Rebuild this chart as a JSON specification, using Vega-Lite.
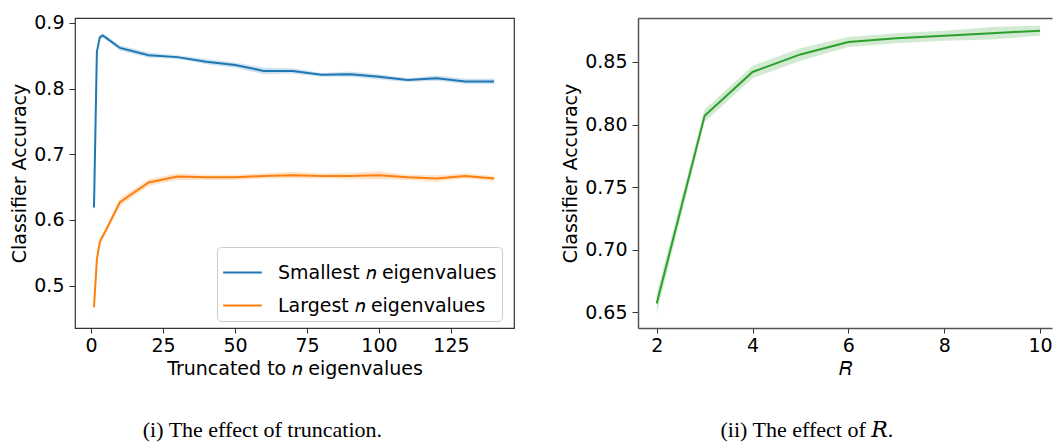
{
  "$schema": "https://vega.github.io/schema/vega-lite/v6.json",
  "background": "white",
  "padding": {"left": 10, "top": 13, "right": 0, "bottom": 0},
  "spacing": 46,
  "config": {
    "font": "DejaVu Sans",
    "axis": {
      "labelFont": "DejaVu Sans", "labelFontSize": 19, "labelColor": "#000",
      "titleFont": "DejaVu Sans", "titleFontSize": 19, "titleFontWeight": "normal", "titleColor": "#000",
      "tickSize": 6, "tickColor": "#333", "labelPadding": 5, "titlePadding": 4, "grid": false
    },
    "axisX": {"tickSize": 5, "labelPadding": 3},
    "title": {"font": "Liberation Serif, DejaVu Serif", "fontSize": 22, "fontWeight": "normal", "color": "#000"}
  },
  "datasets": {
    "trunc": [
      {"n": 1, "series": "Smallest 𝑛 eigenvalues", "mean": 0.619, "lo": 0.606, "hi": 0.631},
      {"n": 2, "series": "Smallest 𝑛 eigenvalues", "mean": 0.856, "lo": 0.852, "hi": 0.860},
      {"n": 3, "series": "Smallest 𝑛 eigenvalues", "mean": 0.878, "lo": 0.875, "hi": 0.881},
      {"n": 4, "series": "Smallest 𝑛 eigenvalues", "mean": 0.881, "lo": 0.878, "hi": 0.884},
      {"n": 5, "series": "Smallest 𝑛 eigenvalues", "mean": 0.878, "lo": 0.875, "hi": 0.881},
      {"n": 10, "series": "Smallest 𝑛 eigenvalues", "mean": 0.862, "lo": 0.858, "hi": 0.866},
      {"n": 20, "series": "Smallest 𝑛 eigenvalues", "mean": 0.851, "lo": 0.847, "hi": 0.855},
      {"n": 30, "series": "Smallest 𝑛 eigenvalues", "mean": 0.848, "lo": 0.845, "hi": 0.851},
      {"n": 40, "series": "Smallest 𝑛 eigenvalues", "mean": 0.841, "lo": 0.837, "hi": 0.845},
      {"n": 50, "series": "Smallest 𝑛 eigenvalues", "mean": 0.836, "lo": 0.832, "hi": 0.840},
      {"n": 60, "series": "Smallest 𝑛 eigenvalues", "mean": 0.827, "lo": 0.822, "hi": 0.832},
      {"n": 70, "series": "Smallest 𝑛 eigenvalues", "mean": 0.827, "lo": 0.823, "hi": 0.831},
      {"n": 80, "series": "Smallest 𝑛 eigenvalues", "mean": 0.821, "lo": 0.818, "hi": 0.824},
      {"n": 90, "series": "Smallest 𝑛 eigenvalues", "mean": 0.822, "lo": 0.818, "hi": 0.826},
      {"n": 100, "series": "Smallest 𝑛 eigenvalues", "mean": 0.818, "lo": 0.814, "hi": 0.822},
      {"n": 110, "series": "Smallest 𝑛 eigenvalues", "mean": 0.813, "lo": 0.810, "hi": 0.816},
      {"n": 120, "series": "Smallest 𝑛 eigenvalues", "mean": 0.816, "lo": 0.812, "hi": 0.820},
      {"n": 130, "series": "Smallest 𝑛 eigenvalues", "mean": 0.811, "lo": 0.807, "hi": 0.815},
      {"n": 140, "series": "Smallest 𝑛 eigenvalues", "mean": 0.811, "lo": 0.807, "hi": 0.815},
      {"n": 1, "series": "Largest 𝑛 eigenvalues", "mean": 0.467, "lo": 0.457, "hi": 0.477},
      {"n": 2, "series": "Largest 𝑛 eigenvalues", "mean": 0.540, "lo": 0.534, "hi": 0.546},
      {"n": 3, "series": "Largest 𝑛 eigenvalues", "mean": 0.566, "lo": 0.561, "hi": 0.571},
      {"n": 4, "series": "Largest 𝑛 eigenvalues", "mean": 0.575, "lo": 0.570, "hi": 0.580},
      {"n": 5, "series": "Largest 𝑛 eigenvalues", "mean": 0.583, "lo": 0.578, "hi": 0.588},
      {"n": 10, "series": "Largest 𝑛 eigenvalues", "mean": 0.627, "lo": 0.621, "hi": 0.633},
      {"n": 20, "series": "Largest 𝑛 eigenvalues", "mean": 0.657, "lo": 0.652, "hi": 0.662},
      {"n": 30, "series": "Largest 𝑛 eigenvalues", "mean": 0.666, "lo": 0.661, "hi": 0.671},
      {"n": 40, "series": "Largest 𝑛 eigenvalues", "mean": 0.665, "lo": 0.661, "hi": 0.669},
      {"n": 50, "series": "Largest 𝑛 eigenvalues", "mean": 0.665, "lo": 0.661, "hi": 0.669},
      {"n": 60, "series": "Largest 𝑛 eigenvalues", "mean": 0.667, "lo": 0.663, "hi": 0.671},
      {"n": 70, "series": "Largest 𝑛 eigenvalues", "mean": 0.668, "lo": 0.663, "hi": 0.673},
      {"n": 80, "series": "Largest 𝑛 eigenvalues", "mean": 0.667, "lo": 0.663, "hi": 0.671},
      {"n": 90, "series": "Largest 𝑛 eigenvalues", "mean": 0.667, "lo": 0.662, "hi": 0.672},
      {"n": 100, "series": "Largest 𝑛 eigenvalues", "mean": 0.668, "lo": 0.662, "hi": 0.674},
      {"n": 110, "series": "Largest 𝑛 eigenvalues", "mean": 0.665, "lo": 0.661, "hi": 0.669},
      {"n": 120, "series": "Largest 𝑛 eigenvalues", "mean": 0.663, "lo": 0.658, "hi": 0.668},
      {"n": 130, "series": "Largest 𝑛 eigenvalues", "mean": 0.667, "lo": 0.663, "hi": 0.671},
      {"n": 140, "series": "Largest 𝑛 eigenvalues", "mean": 0.663, "lo": 0.659, "hi": 0.667}
    ],
    "rparam": [
      {"R": 2, "mean": 0.657, "lo": 0.649, "hi": 0.665},
      {"R": 3, "mean": 0.807, "lo": 0.802, "hi": 0.812},
      {"R": 4, "mean": 0.842, "lo": 0.837, "hi": 0.847},
      {"R": 5, "mean": 0.856, "lo": 0.851, "hi": 0.861},
      {"R": 6, "mean": 0.866, "lo": 0.862, "hi": 0.870},
      {"R": 7, "mean": 0.869, "lo": 0.865, "hi": 0.873},
      {"R": 8, "mean": 0.871, "lo": 0.867, "hi": 0.875},
      {"R": 9, "mean": 0.873, "lo": 0.868, "hi": 0.878},
      {"R": 10, "mean": 0.875, "lo": 0.871, "hi": 0.879}
    ]
  },
  "hconcat": [
    {
      "width": 439,
      "height": 310,
      "data": {"name": "trunc"},
      "view": {"stroke": "#333", "strokeWidth": 1.2},
      "title": {"text": "(i) The effect of truncation.", "orient": "bottom", "frame": "bounds", "anchor": "middle", "offset": 42},
      "layer": [
        {
          "mark": {"type": "area", "fillOpacity": 0.22, "clip": true},
          "encoding": {
            "x": {"field": "n", "type": "quantitative", "scale": {"domain": [-5.6, 146.9], "nice": false, "zero": false},
                  "axis": {"values": [0, 25, 50, 75, 100, 125], "title": "Truncated to 𝑛 eigenvalues", "domain": false}},
            "y": {"field": "lo", "type": "quantitative", "scale": {"domain": [0.4354, 0.9076], "nice": false, "zero": false},
                  "axis": {"values": [0.5, 0.6, 0.7, 0.8, 0.9], "format": ".1f", "title": "Classifier Accuracy", "domain": false}},
            "y2": {"field": "hi"},
            "color": {"field": "series", "type": "nominal",
                     "scale": {"domain": ["Smallest 𝑛 eigenvalues", "Largest 𝑛 eigenvalues"], "range": ["#1f77b4", "#ff7f0e"]}}
          }
        },
        {
          "mark": {"type": "line", "strokeWidth": 2, "clip": true},
          "encoding": {
            "x": {"field": "n", "type": "quantitative",
                  "axis": {"values": [0, 25, 50, 75, 100, 125], "title": "Truncated to 𝑛 eigenvalues", "domain": false}},
            "y": {"field": "mean", "type": "quantitative",
                  "axis": {"values": [0.5, 0.6, 0.7, 0.8, 0.9], "format": ".1f", "title": "Classifier Accuracy", "domain": false}},
            "color": {"field": "series", "type": "nominal",
                       "scale": {"domain": ["Smallest 𝑛 eigenvalues", "Largest 𝑛 eigenvalues"], "range": ["#1f77b4", "#ff7f0e"]},
                       "legend": {"title": null, "orient": "none", "legendX": 142, "legendY": 229, "symbolType": "stroke", "symbolSize": 1500,
                                  "symbolStrokeWidth": 2, "symbolOpacity": 1, "labelFont": "DejaVu Sans", "labelFontSize": 19, "labelColor": "#000",
                                  "labelLimit": 400, "strokeColor": "#ccc", "fillColor": "rgba(255,255,255,0.85)", "cornerRadius": 4, "padding": 5,
                                  "rowPadding": 2, "labelOffset": 15}}
          }
        }
      ]
    },
    {
      "width": 414,
      "height": 310,
      "data": {"name": "rparam"},
      "view": {"stroke": null},
      "title": {"text": "(ii) The effect of 𝑅.", "orient": "bottom", "frame": "bounds", "anchor": "middle", "offset": 42},
      "layer": [
        {
          "mark": {"type": "area", "fillOpacity": 0.22, "color": "#2ca02c", "clip": true},
          "encoding": {
            "x": {"field": "R", "type": "quantitative", "scale": {"domain": [1.61, 10.25], "nice": false, "zero": false},
                  "axis": {"values": [2, 4, 6, 8, 10], "title": "𝑅", "domain": true, "domainColor": "#555", "domainWidth": 1.5}},
            "y": {"field": "lo", "type": "quantitative", "scale": {"domain": [0.6375, 0.8851], "nice": false, "zero": false},
                  "axis": {"values": [0.65, 0.7, 0.75, 0.8, 0.85], "format": ".2f", "title": "Classifier Accuracy", "domain": true, "domainColor": "#555", "domainWidth": 1.5}},
            "y2": {"field": "hi"}
          }
        },
        {
          "mark": {"type": "line", "strokeWidth": 2, "color": "#2ca02c", "clip": true},
          "encoding": {
            "x": {"field": "R", "type": "quantitative",
                  "axis": {"orient": "top", "labels": false, "ticks": false, "domain": true, "domainColor": "#555", "domainWidth": 1.5, "title": null}},
            "y": {"field": "mean", "type": "quantitative",
                  "axis": {"values": [0.65, 0.7, 0.75, 0.8, 0.85], "format": ".2f", "title": "Classifier Accuracy", "domain": true, "domainColor": "#555", "domainWidth": 1.5}}
          }
        }
      ],
      "resolve": {"axis": {"x": "independent"}}
    }
  ]
}
